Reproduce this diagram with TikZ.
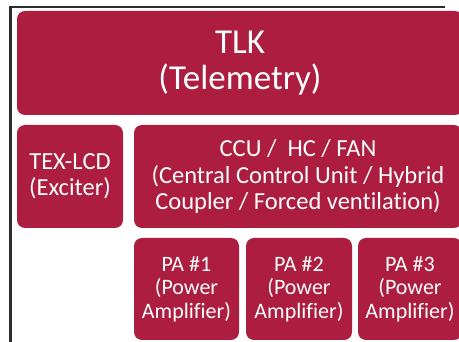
\documentclass[tikz,border=0pt]{standalone}
\usepackage{fontspec}
\setmainfont{Carlito}[Ligatures={NoCommon}]
\definecolor{crimson}{RGB}{173,29,64}
\definecolor{framegray}{RGB}{45,45,45}
\begin{document}
\begin{tikzpicture}[x=1pt,y=-1pt,
  box/.style={fill=crimson, draw=none, rounded corners=8pt, text=white, align=center, inner sep=0pt},
  big/.style={font=\fontsize{35}{36}\selectfont},
  mid/.style={font=\fontsize{24.5}{26.5}\selectfont},
  small/.style={font=\fontsize{22}{23.5}\selectfont},
  frameline/.style={draw=framegray, line width=2.2pt}]
\useasboundingbox (0,0) rectangle (459,342);
\clip (0,0) rectangle (459,342);
\fill[white] (0,0) rectangle (459,342);
\coordinate (ftr) at (445,7);
\coordinate (ftl) at (10.5,7);
\coordinate (fbl) at (10.5,346);
\draw[frameline] (ftr) -- (ftl) -- (fbl);
\node[box, big, minimum width=446pt, minimum height=104pt] (tlk) at (240,63) {TLK\\(Telemetry)};
\node[box, mid, minimum width=106pt, minimum height=103pt] (tex) at (70,176.5) {TEX-LCD\\(Exciter)};
\node[box, mid, minimum width=328pt, minimum height=103pt] (ccu) at (298,176.5) {CCU /~ HC / FAN\\(Central Control Unit / Hybrid\\Coupler / Forced ventilation)};
\node[box, small, minimum width=105pt, minimum height=102pt] (pa1) at (186.5,289) {PA \#1\\(Power\\Amplifier)};
\node[box, small, minimum width=106pt, minimum height=102pt] (pa2) at (299,289) {PA \#2\\(Power\\Amplifier)};
\node[box, small, minimum width=104pt, minimum height=102pt] (pa3) at (410,289) {PA \#3\\(Power\\Amplifier)};
\end{tikzpicture}
\end{document}
